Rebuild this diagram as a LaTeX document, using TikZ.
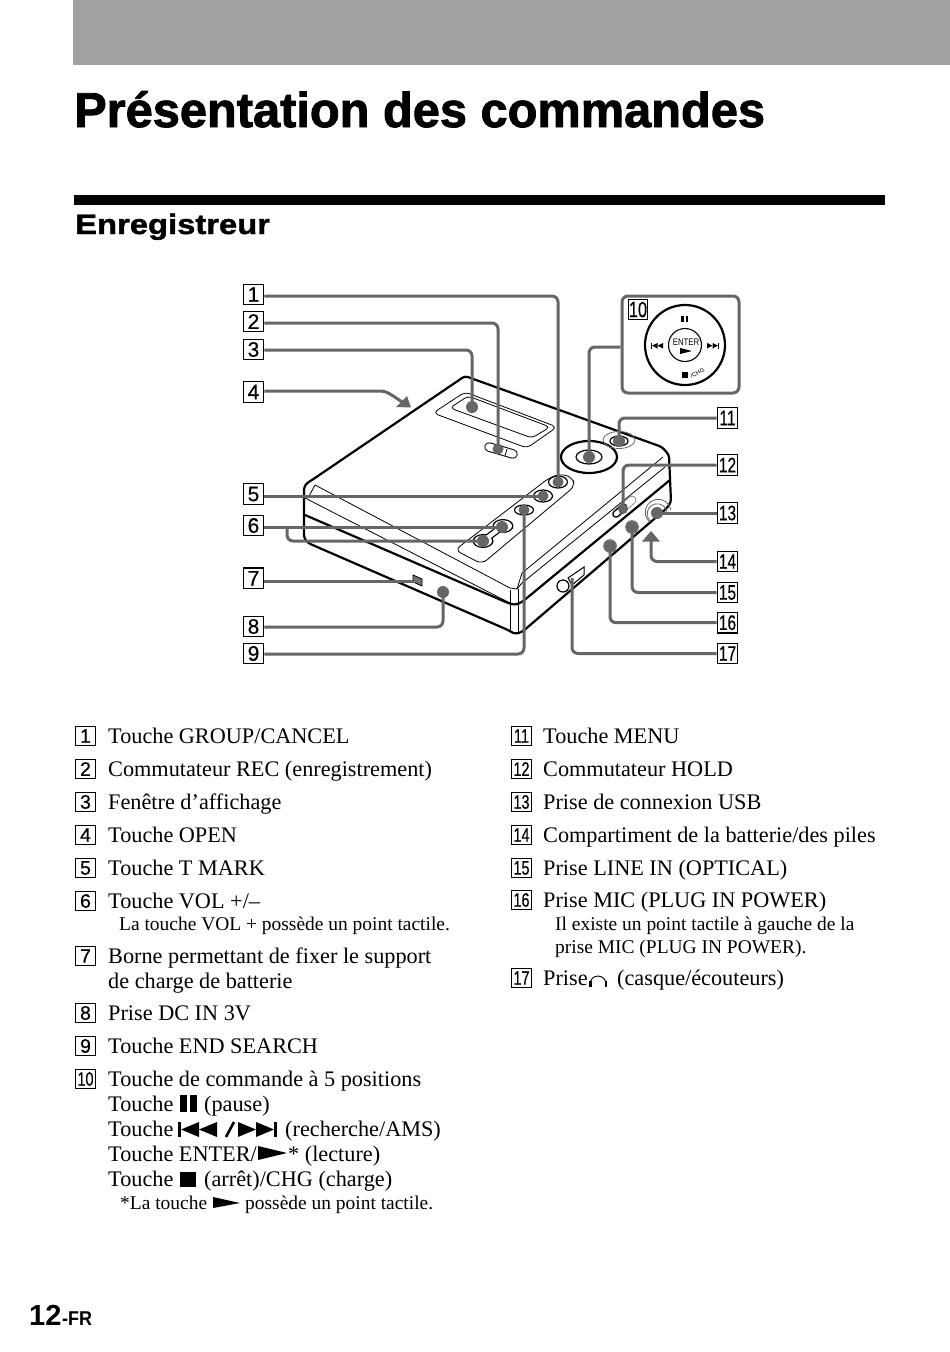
\documentclass[tikz,border=0pt]{standalone}
\usepackage{fontspec}
\setmainfont{Liberation Serif}
\newfontfamily\sansf{Liberation Sans}
\newfontfamily\numf[FakeBold=0.5]{Liberation Sans}
\newfontfamily\titlef[FakeStretch=0.995,FakeBold=1.8]{Liberation Sans Bold}
\newfontfamily\headf[FakeStretch=1.17,FakeBold=1.5]{Liberation Sans Bold}
\definecolor{lead}{gray}{0.40}
\tikzset{
  lbl/.style={draw,line width=1.3pt,minimum size=20.5pt,inner sep=0pt,fill=white,font=\numf\fontsize{21}{21}\selectfont},
  item/.style={anchor=base west,inner sep=0pt,font=\fontsize{22.25}{24}\selectfont},
  subitem/.style={anchor=base west,inner sep=0pt,font=\fontsize{19.45}{22}\selectfont},
  leader/.style={draw=lead,line width=3pt,rounded corners=6pt},
  dot/.style={fill=lead,draw=none},
  body/.style={line width=2.2pt,line join=round,rounded corners=3pt},
  thin/.style={line width=0.8pt,line join=round},
  ringline/.style={line width=0.8pt,draw=black!60},
  sym/.style={fill=black,draw=none}
}
\newcommand{\nar}[1]{\scalebox{0.74}[1]{#1}}
\newcommand{\listbox}[3]{\node[draw,line width=1.2pt,minimum size=19.5pt,inner sep=0pt,font=\numf\fontsize{19.5}{20}\selectfont] (#1) at (#2) {#3};}
\begin{document}
\begin{tikzpicture}[x=1pt,y=-1pt]
\useasboundingbox (0,0) rectangle (950,1352);
\fill[white] (0,0) rectangle (950,1352);
% header
\fill[black!37] (73,0) rectangle (950,65);
\node[anchor=base west,inner sep=0pt,font=\titlef\fontsize{49}{50}\selectfont] (title) at (74,127) {Présentation des commandes};
\fill[black] (74,195) rectangle (885,205);
\node[anchor=base west,inner sep=0pt,font=\headf\fontsize{28}{30}\selectfont] (head) at (75,234) {Enregistreur};
% ---------- device ----------
\draw[body] (508,630) -- (308,543) -- (304,538) -- (304,487) -- (307,483) -- (312,480) -- (465,376) -- (662,447) -- (669,455) -- (671,502) -- (667,508) -- (522,632) -- (515,634) -- cycle;
\draw[body] (305,515) -- (508,603) -- (515,605) -- (522,602) -- (670,480);
\draw[thin] (315,485) -- (510,588) -- (517,589) -- (522,573) -- (663,457);
\draw[thin] (517,589) -- (522,583) -- (665,467);
\draw[thin] (315,485) -- (308,498);
\draw[thin] (305,498) -- (510,603);
\draw[thin] (510,590) -- (510,630);
\draw[thin] (518,589) -- (518,633);
% window
\draw[thin,rounded corners=5pt] (433,413) -- (465,392) -- (557,427) -- (527,448) -- cycle;
\draw[thin,rounded corners=4pt] (450,408) -- (468,396) -- (550,427) -- (532,438) -- cycle;
% rec switch
\draw[line width=9.5pt,line cap=round] (489,447) -- (513,454);
\draw[white,line width=7.5pt,line cap=round] (489,447) -- (513,454);
\draw[line width=0.8pt] (498,445.5) -- (496,453);
\draw[line width=0.8pt] (507,449) -- (505,456);
% wheel
\draw[line width=2.2pt] (589,457) ellipse (28 and 16);
\draw[line width=1.2pt] (589,457) ellipse (13 and 7);
% menu
\draw[ringline] (619,440) ellipse (16 and 8.5);
\draw[line width=1.2pt] (619,441) ellipse (9 and 5);
% button panel
\draw[thin,rounded corners=6pt] (455,550) -- (482,564) -- (575,486) -- (572,477) -- (560,474) -- (549,478) -- cycle;
\draw[line width=1.2pt] (558,482) ellipse (9.5 and 6);
\draw[line width=1.2pt] (543,496) ellipse (9.5 and 6);
\draw[line width=1.2pt] (524,510) ellipse (9.5 and 5);
% VOL rocker
\fill[black] (503,526) ellipse (10.5 and 7);
\fill[black] (483,541) ellipse (10.5 and 7);
\draw[line width=7pt] (503,526) -- (483,541);
\fill[white] (503,526) ellipse (9 and 5.7);
\fill[white] (483,541) ellipse (9 and 5.7);
\draw[white,line width=4.5pt] (503,526) -- (483,541);
% hold switch
\draw[line width=8.5pt,black!55,line cap=round] (616,514) -- (632,500);
\draw[white,line width=7pt,line cap=round] (616,514) -- (632,500);
\draw[line width=7pt,line cap=round] (616,514) -- (624,507);
\draw[white,line width=4.5pt,line cap=round] (616,514) -- (624,507);
% jacks
\draw[ringline] (671,510) arc[start angle=-10,end angle=-230,radius=13] ;
\draw[ringline] (667,512) arc[start angle=-10,end angle=-230,radius=10] ;
\draw[line width=0.7pt,draw=black!70] (632,527) circle (6.4);
\draw[line width=0.7pt,draw=black!70] (610,546) circle (6.4);
\draw[line width=1.2pt,fill=white] (563,586) circle (6);
\draw[line width=1pt] (568,578) -- (584,567) -- (584,575) -- (572,585) -- cycle;
% charge contact
\draw[fill=black!55,line width=0.8pt] (413,575) -- (422,579) -- (422,586) -- (413,582) -- cycle;
% ---------- inset ----------
\node[draw=lead,line width=3pt,rounded corners=6pt,minimum width=117pt,minimum height=97pt,inner sep=0pt,fill=white] (inset) at (680.5,344.5) {};
\draw[line width=2.2pt] (685,345) circle (40);
\draw[line width=1.1pt] (685,345) circle (16.5);
\node[inner sep=0pt,font=\sansf\fontsize{9.5}{10}\selectfont] (enter) at (686,342.5) {\scalebox{0.82}[1]{ENTER}};
\fill[sym] (680,348) -- (692,351) -- (680,354) -- cycle;
\fill[sym] (681,316) rectangle (683.5,322);
\fill[sym] (685.5,316) rectangle (688,322);
\fill[sym] (651,343) rectangle (652,348.5);
\fill[sym] (657.5,343) -- (652,345.7) -- (657.5,348.5) -- cycle;
\fill[sym] (663,343) -- (657.5,345.7) -- (663,348.5) -- cycle;
\fill[sym] (707,343) -- (712.5,345.7) -- (707,348.5) -- cycle;
\fill[sym] (712.5,343) -- (718,345.7) -- (712.5,348.5) -- cycle;
\fill[sym] (718,343) rectangle (719,348.5);
\fill[sym] (682,372) rectangle (688,378);
\node[inner sep=0pt,rotate=28,font=\sansf\fontsize{6}{6}\selectfont] (chg) at (697.5,373) {/CHG};
\node[draw,line width=1.2pt,minimum size=19.5pt,inner sep=0pt,fill=white,font=\numf\fontsize{22}{22}\selectfont] (n10) at (638,309.5) {\nar{10}};
% ---------- targets ----------
\coordinate (d1) at (558,482);
\coordinate (d2) at (498,449);
\coordinate (d3) at (472,407);
\coordinate (d5) at (543,496);
\coordinate (d6) at (502,527);
\coordinate (d6b) at (483,541);
\coordinate (d6s) at (287,541);
\coordinate (d7) at (416,581);
\coordinate (d8) at (443,592);
\coordinate (d9) at (524,510);
\coordinate (d10) at (589,457);
\coordinate (d11) at (619,441);
\coordinate (d12) at (623,509);
\coordinate (d13) at (657,513);
\coordinate (d14) at (651,541);
\coordinate (d15) at (632,527);
\coordinate (d16) at (610,546);
\coordinate (d17) at (572,578);
\coordinate (a4m) at (375,391);
\coordinate (a4t) at (402,402);
% ---------- callout boxes ----------
\node[lbl] (n1) at (253.5,294.5) {1};
\node[lbl] (n2) at (253.5,321.5) {2};
\node[lbl] (n3) at (253.5,349.5) {3};
\node[lbl] (n4) at (253.5,392) {4};
\node[lbl] (n5) at (253.5,494) {5};
\node[lbl] (n6) at (253.5,525.5) {6};
\node[lbl] (n7) at (253.5,578.3) {7};
\node[lbl] (n8) at (253.5,626.5) {8};
\node[lbl] (n9) at (253.5,653.5) {9};
\node[lbl] (n11) at (727.5,418) {\nar{11}};
\node[lbl] (n12) at (727.5,465) {\nar{12}};
\node[lbl] (n13) at (727.5,513) {\nar{13}};
\node[lbl] (n14) at (727.5,561.5) {\nar{14}};
\node[lbl] (n15) at (727.5,592.5) {\nar{15}};
\node[lbl] (n16) at (727.5,622.7) {\nar{16}};
\node[lbl] (n17) at (727.5,653.5) {\nar{17}};
% ---------- leaders ----------
\draw[leader] ([yshift=-1.5pt]n1.east) -| (d1);
\draw[leader] ([yshift=-1.5pt]n2.east) -| (d2);
\draw[leader] ([yshift=-0.5pt]n3.east) -| (d3);
\draw[leader] ([yshift=1pt]n4.east) -- (a4m) to[out=0,in=145] (a4t);
\fill[lead] (407,396) -- (411,407.5) -- (396,407) -- cycle;
\draw[leader] (n5.east |- d5) -- (d5);
\draw[leader] (n6.east |- d6) -- (d6);
\draw[leader] (d6s |- d6) |- (d6b);
\draw[leader] (n7.east |- d7) -- (d7);
\draw[leader] ([yshift=-0.5pt]n8.east) -| (d8);
\draw[leader] ([yshift=-0.5pt]n9.east) -| (d9);
\draw[leader] (inset.west |- 0,347) -| (d10);
\draw[leader] (n11.west) -| (d11);
\draw[leader] (n12.west) -| (d12);
\draw[leader] (n13.west) -- (d13);
\draw[leader] (n14.west) -| (d14);
\fill[lead] (651,531) -- (660,541.5) -- (642,541.5) -- cycle;
\draw[leader] (n15.west) -| (d15);
\draw[leader] (n16.west) -| (d16);
\draw[leader] (n17.west) -| (d17);
\foreach \d/\r in {d1/5.5,d2/5.5,d3/6,d5/5.5,d6/6,d6b/6,d8/6,d9/5.5,d10/6,d11/6,d12/5,d13/6,d15/6,d16/6}
  {\fill[dot] (\d) circle (\r);}
% ---------- list left ----------
\listbox{b1}{85.5,736}{1}
\node[item] (t1) at (108,743) {Touche GROUP/CANCEL};
\listbox{b2}{85.5,769}{2}
\node[item] (t2) at (108,776) {Commutateur REC (enregistrement)};
\listbox{b3}{85.5,802}{3}
\node[item] (t3) at (108,809) {Fenêtre d’affichage};
\listbox{b4}{85.5,835}{4}
\node[item] (t4) at (108,842) {Touche OPEN};
\listbox{b5}{85.5,868}{5}
\node[item] (t5) at (108,875) {Touche T MARK};
\listbox{b6}{85.5,901}{6}
\node[item] (t6) at (108,908) {Touche VOL +/–};
\node[subitem] (s6) at (119,930) {La touche VOL + possède un point tactile.};
\listbox{b7}{85.5,956}{7}
\node[item] (t7) at (108,963) {Borne permettant de fixer le support};
\node[item] (t7b) at (108,988) {de charge de batterie};
\listbox{b8}{85.5,1013}{8}
\node[item] (t8) at (108,1020) {Prise DC IN 3V};
\listbox{b9}{85.5,1046}{9}
\node[item] (t9) at (108,1053) {Touche END SEARCH};
\listbox{b10}{85.5,1079}{\nar{10}}
\node[item] (t10) at (108,1086) {Touche de commande à 5 positions};
\node[item] (t10a) at (108,1111) {Touche};
\fill[sym] (180,1095) rectangle (187,1112);
\fill[sym] (190,1095) rectangle (197,1112);
\node[item] (t10a2) at (204,1111) {(pause)};
\node[item] (t10b) at (108,1136) {Touche};
\fill[sym] (178,1122) rectangle (181,1137);
\fill[sym] (199,1122) -- (181,1129.5) -- (199,1137) -- cycle;
\fill[sym] (217,1122) -- (199,1129.5) -- (217,1137) -- cycle;
\draw[line width=2.6pt] (226,1137) -- (234,1122);
\fill[sym] (238,1122) -- (256,1129.5) -- (238,1137) -- cycle;
\fill[sym] (256,1122) -- (274,1129.5) -- (256,1137) -- cycle;
\fill[sym] (274,1122) rectangle (277,1137);
\node[item] (t10b2) at (285,1136) {(recherche/AMS)};
\node[item] (t10c) at (108,1161) {Touche ENTER/};
\fill[sym] (258,1146) -- (287,1153) -- (258,1160) -- cycle;
\node[item] (t10c2) at (288,1161) {* (lecture)};
\node[item] (t10d) at (108,1186) {Touche};
\fill[sym] (180,1172) rectangle (196,1187);
\node[item] (t10d2) at (204,1186) {(arrêt)/CHG (charge)};
\node[subitem] (s10) at (120,1209) {*La touche};
\fill[sym] (213,1197) -- (240,1203) -- (213,1208) -- cycle;
\node[subitem] (s10b) at (245,1209) {possède un point tactile.};
% ---------- list right ----------
\listbox{b11}{521.5,736}{\nar{11}}
\node[item] (t11) at (543,743) {Touche MENU};
\listbox{b12}{521.5,769}{\nar{12}}
\node[item] (t12) at (543,776) {Commutateur HOLD};
\listbox{b13}{521.5,802}{\nar{13}}
\node[item] (t13) at (543,809) {Prise de connexion USB};
\listbox{b14}{521.5,835}{\nar{14}}
\node[item] (t14) at (543,842) {Compartiment de la batterie/des piles};
\listbox{b15}{521.5,868}{\nar{15}}
\node[item] (t15) at (543,875) {Prise LINE IN (OPTICAL)};
\listbox{b16}{521.5,900}{\nar{16}}
\node[item] (t16) at (543,907) {Prise MIC (PLUG IN POWER)};
\node[subitem] (s16) at (555,930) {Il existe un point tactile à gauche de la};
\node[subitem] (s16b) at (555,953) {prise MIC (PLUG IN POWER).};
\listbox{b17}{521.5,978}{\nar{17}}
\node[item] (t17) at (543,985) {Prise};
\draw[line width=0.9pt] (590,984) arc[start angle=180,end angle=360,radius=8];
\fill[sym] (589,981) rectangle (591.5,987);
\fill[sym] (604.5,981) rectangle (607,987);
\node[item] (t17b) at (617,985) {(casque/écouteurs)};
% page number
\node[anchor=base west,inner sep=0pt,font=\sansf\bfseries\fontsize{29}{30}\selectfont] (pg) at (29,1325) {12};
\node[anchor=base west,inner sep=0pt,font=\sansf\bfseries\fontsize{20}{20}\selectfont] (pgfr) at (62,1325) {\scalebox{0.9}[1]{-FR}};
\end{tikzpicture}
\end{document}
